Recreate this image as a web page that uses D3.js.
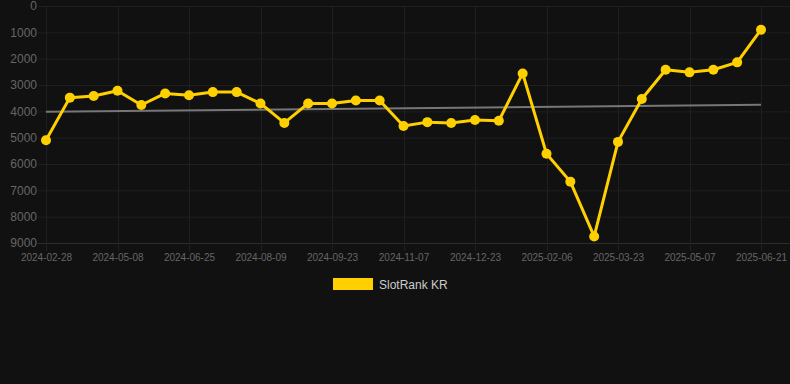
<!DOCTYPE html>
<html>
<head>
<meta charset="utf-8">
<script src="https://cdn.jsdelivr.net/npm/d3@7"></script>
<style>
  html, body { margin: 0; padding: 0; background: #111111; }
  svg { display: block; font-family: "Liberation Sans", Arial, sans-serif; }
</style>
</head>
<body>
<svg id="chart" width="790" height="384"></svg>
<script>
// category dates (only every third one is shown on the axis)
var dates = ["2024-02-28", "2024-04-08", "2024-04-23", "2024-05-08", "2024-05-24", "2024-06-09",
             "2024-06-25", "2024-07-10", "2024-07-25", "2024-08-09", "2024-08-24", "2024-09-08",
             "2024-09-23", "2024-10-08", "2024-10-23", "2024-11-07", "2024-11-22", "2024-12-08",
             "2024-12-23", "2025-01-07", "2025-01-22", "2025-02-06", "2025-02-21", "2025-03-08",
             "2025-03-23", "2025-04-07", "2025-04-22", "2025-05-07", "2025-05-22", "2025-06-06",
             "2025-06-21"];

// rank values (lower is better, axis reversed)
var ranks = [5100, 3480, 3420, 3220, 3760, 3320, 3390, 3270, 3270, 3700,
             4440, 3700, 3700, 3590, 3590, 4560, 4410, 4440, 4330, 4360,
             2560, 5610, 6670, 8750, 5160, 3530, 2420, 2520, 2420, 2140,
             900];

// trend line end values
var trendValues = [4020, 3750];

var yTicks = [0, 1000, 2000, 3000, 4000, 5000, 6000, 7000, 8000, 9000];
var seriesName = "SlotRank KR";
var gold = "#ffd000";

var svg = d3.select("#chart");

var x = d3.scalePoint()
    .domain(dates)
    .range([46, 761]);

var y = d3.scaleLinear()
    .domain([0, 9000])
    .range([6, 243]);

// horizontal grid + y labels
svg.append("g")
    .selectAll("line")
    .data(yTicks)
    .enter()
    .append("line")
    .attr("x1", 38)
    .attr("x2", 790)
    .attr("y1", function(d) { return y(d) + 0.5; })
    .attr("y2", function(d) { return y(d) + 0.5; })
    .attr("stroke", function(d) { return d === 9000 ? "#2c2c2c" : "#1f1f1f"; })
    .attr("stroke-width", 1);

var yAxis = d3.axisLeft(y)
    .tickValues(yTicks)
    .tickFormat(d3.format("d"))
    .tickSize(0)
    .tickPadding(0);

svg.append("g")
    .attr("transform", "translate(37,0)")
    .call(yAxis)
    .call(function(g) {
        g.select(".domain").remove();
        g.selectAll("text")
            .attr("fill", "#666666")
            .style("font-size", "12px")
            .style("font-family", "Liberation Sans, Arial, sans-serif");
    });

// vertical grid + x labels
var shown = dates.filter(function(d, i) { return i % 3 === 0; });

svg.append("g")
    .selectAll("line")
    .data(shown)
    .enter()
    .append("line")
    .attr("x1", function(d) { return Math.round(x(d)) + 0.5; })
    .attr("x2", function(d) { return Math.round(x(d)) + 0.5; })
    .attr("y1", 6)
    .attr("y2", 251)
    .attr("stroke", "#1f1f1f")
    .attr("stroke-width", 1);

var xAxis = d3.axisBottom(x)
    .tickValues(shown)
    .tickSize(0)
    .tickPadding(0);

svg.append("g")
    .attr("transform", "translate(0,254)")
    .call(xAxis)
    .call(function(g) {
        g.select(".domain").remove();
        g.selectAll("text")
            .attr("fill", "#666666")
            .style("font-size", "10px")
            .style("font-family", "Liberation Sans, Arial, sans-serif");
    });

// trend line
svg.append("line")
    .attr("x1", x(dates[0]))
    .attr("x2", x(dates[dates.length - 1]))
    .attr("y1", y(trendValues[0]))
    .attr("y2", y(trendValues[1]))
    .attr("stroke", "#777777")
    .attr("stroke-width", 2);

// series line
var line = d3.line()
    .x(function(d, i) { return x(dates[i]); })
    .y(function(d) { return y(d); });

svg.append("path")
    .datum(ranks)
    .attr("d", line)
    .attr("fill", "none")
    .attr("stroke", gold)
    .attr("stroke-width", 3)
    .attr("stroke-linejoin", "round");

svg.append("g")
    .selectAll("circle")
    .data(ranks)
    .enter()
    .append("circle")
    .attr("cx", function(d, i) { return x(dates[i]); })
    .attr("cy", function(d) { return y(d); })
    .attr("r", 5)
    .attr("fill", gold);

// legend
svg.append("rect")
    .attr("x", 333)
    .attr("y", 278)
    .attr("width", 40)
    .attr("height", 12)
    .attr("fill", gold);

svg.append("text")
    .attr("x", 379)
    .attr("y", 289)
    .attr("fill", "#cccccc")
    .style("font-size", "12px")
    .text(seriesName);
</script>
</body>
</html>
